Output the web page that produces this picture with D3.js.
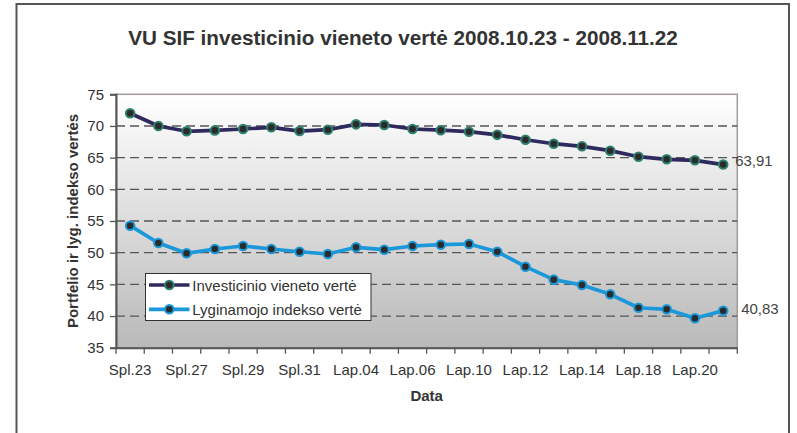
<!DOCTYPE html>
<html>
<head>
<meta charset="utf-8">
<script src="https://cdn.jsdelivr.net/npm/d3@7"></script>
<style>
  body { margin: 0; background: #fff; }
  svg { display: block; font-family: "Liberation Sans", Arial, sans-serif; }
</style>
</head>
<body>
<div id="chart"></div>
<script>
// --- Data ---
const dates = ["Spl.23", "Spl.24", "Spl.27", "Spl.28", "Spl.29", "Spl.30", "Spl.31",
  "Lap.03", "Lap.04", "Lap.05", "Lap.06", "Lap.07", "Lap.10", "Lap.11", "Lap.12",
  "Lap.13", "Lap.14", "Lap.17", "Lap.18", "Lap.19", "Lap.20", "Lap.21"];
const unitValue = [72.0, 70.0, 69.16, 69.3, 69.52, 69.79, 69.2, 69.41, 70.26, 70.15, 69.52,
  69.33, 69.1, 68.6, 67.83, 67.2, 66.79, 66.1, 65.15, 64.74, 64.58, 63.91];
const indexValue = [54.26, 51.53, 49.9, 50.58, 51.05, 50.58, 50.15, 49.79, 50.85, 50.47, 51.05,
  51.26, 51.37, 50.15, 47.79, 45.74, 44.9, 43.43, 41.31, 41.06, 39.64, 40.83];
const yTicks = [35, 40, 45, 50, 55, 60, 65, 70, 75];
const gridValues = [40, 45, 50, 55, 60, 65, 70];
const seriesNames = ["Investicinio vieneto vertė", "Lyginamojo indekso vertė"];

const W = 797, H = 433;
const plot = { left: 116, right: 737.3, top: 94.3, bottom: 347.7 };

const svg = d3.select("#chart").append("svg")
  .attr("width", W)
  .attr("height", H);

// outer frame (bottom edge falls outside the picture)
svg.append("rect")
  .attr("x", 16.5).attr("y", 4)
  .attr("width", 789 - 16.5).attr("height", 460)
  .attr("fill", "#fff")
  .attr("stroke", "#555")
  .attr("stroke-width", 2);

// title
svg.append("text")
  .attr("x", 403).attr("y", 45)
  .attr("text-anchor", "middle")
  .attr("font-size", 20.7)
  .attr("font-weight", "bold")
  .attr("fill", "#333")
  .text("VU SIF investicinio vieneto vertė 2008.10.23 - 2008.11.22");

// --- Scales ---
const x = d3.scaleBand().domain(dates).range([plot.left, plot.right]).padding(0);
const y = d3.scaleLinear().domain([35, 75]).range([plot.bottom, plot.top]);
const cx = d => x(d) + x.bandwidth() / 2;

// plot background gradient
const grad = svg.append("defs").append("linearGradient")
  .attr("id", "bg").attr("x1", 0).attr("y1", 0).attr("x2", 0).attr("y2", 1);
grad.append("stop").attr("offset", "0%").attr("stop-color", "#ffffff");
grad.append("stop").attr("offset", "100%").attr("stop-color", "#b9b9b9");

svg.append("rect")
  .attr("x", plot.left).attr("y", plot.top)
  .attr("width", plot.right - plot.left).attr("height", plot.bottom - plot.top)
  .attr("fill", "url(#bg)")
  .attr("stroke", "#a59a9a")
  .attr("stroke-width", 1.5);

// gridlines
svg.append("g").selectAll("line")
  .data(gridValues)
  .join("line")
  .attr("x1", plot.left).attr("x2", plot.right)
  .attr("y1", d => y(d)).attr("y2", d => y(d))
  .attr("stroke", "#555")
  .attr("stroke-width", 1.3)
  .attr("stroke-dasharray", "9,5");

// --- Axes ---
const yAxis = svg.append("g")
  .attr("transform", `translate(${plot.left},0)`)
  .call(d3.axisLeft(y).tickValues(yTicks).tickSize(6).tickPadding(6));
yAxis.select(".domain").attr("stroke", "#555").attr("stroke-width", 2);
yAxis.selectAll(".tick line").attr("stroke", "#555").attr("stroke-width", 1.3);
yAxis.selectAll("text").attr("font-size", 15).attr("fill", "#333")
  .attr("font-family", "Liberation Sans, Arial, sans-serif");

const xAxis = svg.append("g")
  .attr("transform", `translate(0,${plot.bottom})`)
  .call(d3.axisBottom(x).tickSize(0).tickPadding(17)
    .tickFormat((d, i) => i % 2 === 0 ? d : ""));
xAxis.select(".domain").attr("stroke", "#555").attr("stroke-width", 2);
xAxis.selectAll("text").attr("font-size", 15).attr("fill", "#333")
  .attr("font-family", "Liberation Sans, Arial, sans-serif");

// tick marks on the category boundaries
const bounds = dates.map(d => x(d)).concat([plot.right]);
xAxis.append("g").selectAll("line")
  .data(bounds)
  .join("line")
  .attr("x1", d => d).attr("x2", d => d)
  .attr("y1", 0).attr("y2", 6)
  .attr("stroke", "#555")
  .attr("stroke-width", 1.3);

// axis titles
svg.append("text")
  .attr("transform", `translate(72,${(plot.top + plot.bottom) / 2}) rotate(-90)`)
  .attr("text-anchor", "middle")
  .attr("dominant-baseline", "central")
  .attr("font-size", 15)
  .attr("font-weight", "bold")
  .attr("fill", "#333")
  .text("Portfelio ir lyg. indekso vertės");

svg.append("text")
  .attr("x", (plot.left + plot.right) / 2).attr("y", 401)
  .attr("text-anchor", "middle")
  .attr("font-size", 15)
  .attr("font-weight", "bold")
  .attr("fill", "#333")
  .text("Data");

// --- Series ---
const series = [
  { name: seriesNames[0], values: unitValue, line: "#2e2a5e", ring: "#2f8070", dx: 12, dy: 1 },
  { name: seriesNames[1], values: indexValue, line: "#1a98da", ring: "#1a98da", dx: 18, dy: 3 }
];

const lineGen = d3.line()
  .x((v, i) => cx(dates[i]))
  .y(v => y(v));

series.forEach(s => {
  svg.append("path")
    .datum(s.values)
    .attr("d", lineGen)
    .attr("fill", "none")
    .attr("stroke", s.line)
    .attr("stroke-width", 3.7)
    .attr("stroke-linejoin", "round");

  svg.append("g").selectAll("circle")
    .data(s.values)
    .join("circle")
    .attr("cx", (v, i) => cx(dates[i]))
    .attr("cy", v => y(v))
    .attr("r", 4.3)
    .attr("fill", "#2b2b2b")
    .attr("stroke", s.ring)
    .attr("stroke-width", 2);

  // value label on the last point
  const last = s.values.length - 1;
  svg.append("text")
    .attr("x", cx(dates[last]) + s.dx)
    .attr("y", y(s.values[last]) + s.dy)
    .attr("font-size", 15)
    .attr("fill", "#444")
    .text(d3.format(".2f")(s.values[last]).replace(".", ","));
});

// --- Legend ---
const legend = svg.append("g");
legend.append("rect")
  .attr("x", 145.5).attr("y", 273.5)
  .attr("width", 225.5).attr("height", 47)
  .attr("fill", "#fff")
  .attr("stroke", "#333")
  .attr("stroke-width", 1);

series.forEach((s, i) => {
  const ly = 285 + i * 24.3;
  legend.append("line")
    .attr("x1", 149).attr("x2", 189.5)
    .attr("y1", ly).attr("y2", ly)
    .attr("stroke", s.line)
    .attr("stroke-width", 3.7);
  legend.append("circle")
    .attr("cx", 169.3).attr("cy", ly)
    .attr("r", 4.3)
    .attr("fill", "#2b2b2b")
    .attr("stroke", s.ring)
    .attr("stroke-width", 2);
  legend.append("text")
    .attr("x", 192.3).attr("y", ly + 5.5)
    .attr("font-size", 15)
    .attr("fill", "#333")
    .text(s.name);
});
</script>
</body>
</html>
